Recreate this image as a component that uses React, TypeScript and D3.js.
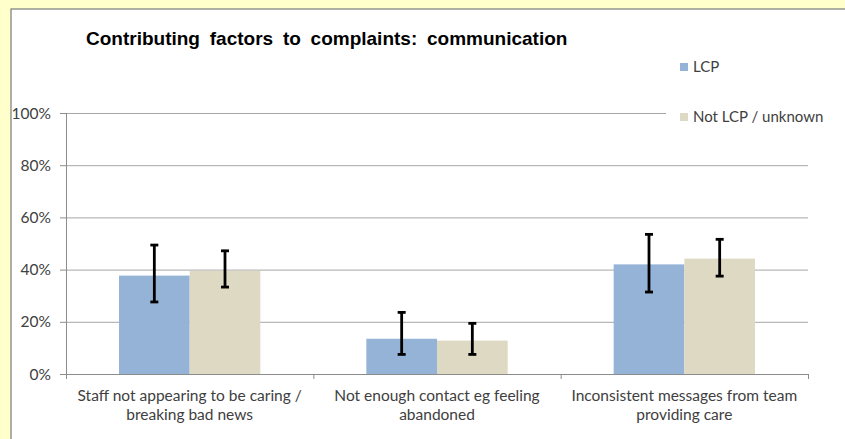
import React, { useRef, useEffect } from "react";
import * as d3 from "d3";

const categories = [
  ["Staff not appearing to be caring /", "breaking bad news"],
  ["Not enough contact eg feeling", "abandoned"],
  ["Inconsistent messages from team", "providing care"],
];
const seriesNames = ["LCP", "Not LCP / unknown"];
const lcpValues = [37.7, 13.5, 42.0];
const lcpLow = [27.6, 7.5, 31.4];
const lcpHigh = [49.4, 23.6, 53.5];
const otherValues = [39.5, 12.8, 44.2];
const otherLow = [33.3, 7.5, 37.5];
const otherHigh = [47.2, 19.4, 51.6];
const yTicks = [0, 20, 40, 60, 80, 100];

const W = 845;
const H = 439;
const colors = ["#95b3d7", "#ddd9c3"];

const App: React.FC = () => {
  const svgRef = useRef<SVGSVGElement | null>(null);

  useEffect(() => {
    if (!svgRef.current) return;
    const svg = d3.select(svgRef.current);
    svg.selectAll("*").remove();

    const font = "Lato, 'Open Sans', sans-serif";
    const textColor = "#404040";

    // yellow page + white chart panel
    svg.append("rect").attr("width", W).attr("height", H).attr("fill", "#ffffcc");
    svg
      .append("rect")
      .attr("x", 11)
      .attr("y", 9)
      .attr("width", W)
      .attr("height", H)
      .attr("fill", "#ffffff")
      .attr("stroke", "#7a7a7a")
      .attr("stroke-width", 1.2);

    const left = 66;
    const right = 808;
    const top = 113;
    const bottom = 374;

    const x0 = d3
      .scaleBand<number>()
      .domain(d3.range(categories.length))
      .range([left, right])
      .paddingInner(0)
      .paddingOuter(0);
    const x1 = d3
      .scaleBand<number>()
      .domain([0, 1])
      .range([0, x0.bandwidth()])
      .paddingOuter(0.75)
      .paddingInner(0);
    const y = d3.scaleLinear().domain([0, 100]).range([bottom, top]);

    // gridlines
    svg
      .append("g")
      .selectAll("line")
      .data(yTicks.filter((t) => t > 0))
      .join("line")
      .attr("x1", left)
      .attr("x2", right)
      .attr("y1", (d) => y(d) + 0.5)
      .attr("y2", (d) => y(d) + 0.5)
      .attr("stroke", "#a6a6a6")
      .attr("stroke-width", 1);

    // y axis
    const yAxis = svg.append("g");
    yAxis
      .append("line")
      .attr("x1", left + 0.5)
      .attr("x2", left + 0.5)
      .attr("y1", top)
      .attr("y2", bottom)
      .attr("stroke", "#8c8c8c");
    yAxis
      .selectAll("line.tick")
      .data(yTicks)
      .join("line")
      .attr("class", "tick")
      .attr("x1", left - 6)
      .attr("x2", left)
      .attr("y1", (d) => y(d) + 0.5)
      .attr("y2", (d) => y(d) + 0.5)
      .attr("stroke", "#8c8c8c");
    yAxis
      .selectAll("text")
      .data(yTicks)
      .join("text")
      .attr("x", left - 15)
      .attr("y", (d) => y(d))
      .attr("dy", "0.36em")
      .attr("text-anchor", "end")
      .attr("font-family", font)
      .attr("font-size", 15.5)
      .attr("fill", textColor)
      .text((d) => `${d}%`);

    // bars
    const series = [
      { values: lcpValues, low: lcpLow, high: lcpHigh },
      { values: otherValues, low: otherLow, high: otherHigh },
    ];
    series.forEach((s, si) => {
      const g = svg.append("g");
      g.selectAll("rect")
        .data(s.values)
        .join("rect")
        .attr("x", (_, i) => (x0(i) as number) + (x1(si) as number))
        .attr("width", x1.bandwidth())
        .attr("y", (d) => y(d))
        .attr("height", (d) => bottom - y(d))
        .attr("fill", colors[si]);
    });

    // x axis
    const xAxis = svg.append("g");
    xAxis
      .append("line")
      .attr("x1", left)
      .attr("x2", right)
      .attr("y1", bottom + 0.5)
      .attr("y2", bottom + 0.5)
      .attr("stroke", "#8c8c8c");
    xAxis
      .selectAll("line.tick")
      .data(d3.range(categories.length + 1))
      .join("line")
      .attr("class", "tick")
      .attr("x1", (d) => left + d * x0.bandwidth() + 0.5)
      .attr("x2", (d) => left + d * x0.bandwidth() + 0.5)
      .attr("y1", bottom)
      .attr("y2", bottom + 5)
      .attr("stroke", "#8c8c8c");

    categories.forEach((lines, i) => {
      const t = xAxis
        .append("text")
        .attr("x", (x0(i) as number) + x0.bandwidth() / 2)
        .attr("y", 401)
        .attr("text-anchor", "middle")
        .attr("font-family", font)
        .attr("font-size", 15.5)
        .attr("fill", textColor);
      lines.forEach((line, li) => {
        t.append("tspan")
          .attr("x", (x0(i) as number) + x0.bandwidth() / 2)
          .attr("dy", li === 0 ? 0 : 19)
          .text(line);
      });
    });

    // error bars
    series.forEach((s, si) => {
      const g = svg.append("g").attr("stroke", "#000").attr("stroke-width", 2.8);
      s.values.forEach((_, i) => {
        const cx = (x0(i) as number) + (x1(si) as number) + x1.bandwidth() / 2;
        g.append("line")
          .attr("x1", cx)
          .attr("x2", cx)
          .attr("y1", y(s.high[i]))
          .attr("y2", y(s.low[i]));
        [s.high[i], s.low[i]].forEach((v) => {
          g.append("line")
            .attr("x1", cx - 4)
            .attr("x2", cx + 4)
            .attr("y1", y(v))
            .attr("y2", y(v));
        });
      });
    });

    // title
    svg
      .append("text")
      .attr("x", 86)
      .attr("y", 45)
      .attr("font-family", "'Liberation Sans', Arial, sans-serif")
      .attr("font-weight", "bold")
      .attr("font-size", 19)
      .attr("word-spacing", 4.5)
      .attr("fill", "#000")
      .text("Contributing factors to complaints: communication");

    // legend
    const legend = svg.append("g");
    legend
      .append("rect")
      .attr("x", 666)
      .attr("y", 105)
      .attr("width", 172)
      .attr("height", 24)
      .attr("fill", "#fff");
    const legendY = [67, 117];
    seriesNames.forEach((name, i) => {
      legend
        .append("rect")
        .attr("x", 680)
        .attr("y", legendY[i] - 4)
        .attr("width", 8)
        .attr("height", 8)
        .attr("fill", colors[i]);
      legend
        .append("text")
        .attr("x", 693)
        .attr("y", legendY[i])
        .attr("dy", "0.36em")
        .attr("font-family", font)
        .attr("font-size", 15)
        .attr("fill", textColor)
        .text(name);
    });
  }, []);

  return (
    <div style={{ position: "fixed", left: 0, top: 0 }}>
      <svg ref={svgRef} width={W} height={H} style={{ display: "block" }} />
    </div>
  );
};

export default App;
